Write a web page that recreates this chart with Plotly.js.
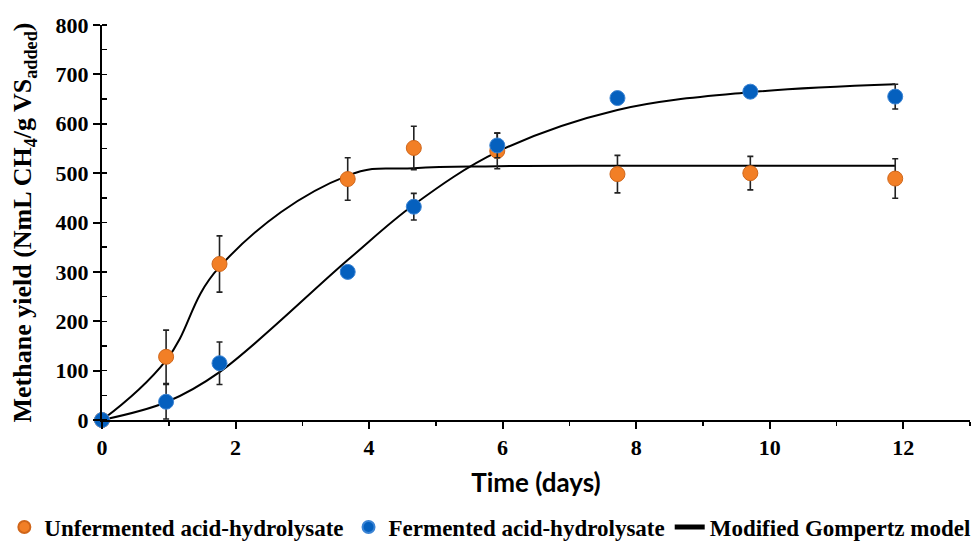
<!DOCTYPE html>
<html>
<head>
<meta charset="utf-8">
<script src="https://cdn.plot.ly/plotly-3.0.1.min.js"></script>
<style>html,body{margin:0;padding:0;background:#fff;}#chart{width:971px;height:544px;}</style>
</head>
<body>
<div id="chart"></div>
<script>
const days = [0, 0.96, 1.76, 3.68, 4.67, 5.92, 7.72, 9.71, 11.88];
const unfermented = [0, 128, 316, 488, 551, 545, 498, 500, 489];
const unfermentedErr = [0, 54, 57, 43, 44, 36, 38, 34, 40];
const fermented = [0, 37, 115, 300, 432, 556, 652, 665, 655];
const fermentedErr = [0, 35, 43, 5, 27, 25, 12, 12, 25];
const gompertzUnfermented = [0, 121, 310, 495, 510, 514, 515, 515, 515];
const gompertzFermented = [0, 36, 97, 324, 436, 543, 628, 664, 680];
const xTicks = [0, 2, 4, 6, 8, 10, 12];
const yTicks = [0, 100, 200, 300, 400, 500, 600, 700, 800];

const serif = "Liberation Serif, Times New Roman, serif";

const traces = [
  {x: days, y: gompertzUnfermented, mode: 'lines', line: {shape: 'spline', smoothing: 1.2, color: '#000', width: 2},
   name: 'Modified Gompertz model', legendgroup: 'g', showlegend: false, legendrank: 3, hoverinfo: 'skip'},
  {x: days, y: gompertzFermented, mode: 'lines', line: {shape: 'spline', smoothing: 1, color: '#000', width: 2},
   name: 'Modified Gompertz model', legendgroup: 'g', showlegend: true, legendrank: 3},
  {x: days, y: unfermented, mode: 'markers', name: 'Unfermented acid-hydrolysate', legendrank: 1,
   marker: {size: 15, color: '#F27F26', line: {color: '#D0661A', width: 1}},
   error_y: {type: 'data', array: unfermentedErr, visible: true, color: '#222', thickness: 1.6, width: 3},
   cliponaxis: false},
  {x: days, y: fermented, mode: 'markers', name: 'Fermented acid-hydrolysate', legendrank: 2,
   marker: {size: 15, color: '#0560BE', line: {color: '#3B84D4', width: 1}},
   error_y: {type: 'data', array: fermentedErr, visible: true, color: '#222', thickness: 1.6, width: 3},
   cliponaxis: false}
];

const layout = {
  width: 971, height: 544,
  margin: {l: 102, r: 1, t: 25, b: 124, autoexpand: false},
  paper_bgcolor: '#fff', plot_bgcolor: '#fff',
  showlegend: true,
  legend: {orientation: 'h', x: -0.1125, xanchor: 'left', y: -0.271, yanchor: 'middle',
           font: {family: serif, size: 23, weight: 'bold', color: '#000'}, traceorder: 'normal',
           itemwidth: 30, itemsizing: 'constant'},
  xaxis: {range: [0, 13], tickvals: xTicks, ticktext: xTicks.map(String), showgrid: false, zeroline: false,
          showline: true, linecolor: '#000', linewidth: 2,
          ticks: 'outside', ticklen: 7, tickwidth: 2, tickcolor: '#000',
          minor: {ticks: 'outside', dtick: 1, ticklen: 4, tickwidth: 1.5, tickcolor: '#000'},
          tickfont: {family: serif, size: 22, weight: 'bold', color: '#000'},
          title: {text: 'Time (days)', font: {family: 'Lato, sans-serif', size: 26, weight: 'bold', color: '#000'}, standoff: 14},
          fixedrange: true},
  yaxis: {range: [0, 800], tickvals: yTicks, ticktext: yTicks.map(String), showgrid: false, zeroline: false,
          showline: true, linecolor: '#000', linewidth: 2,
          ticks: 'outside', ticklen: 7, tickwidth: 2, tickcolor: '#000',
          minor: {ticks: 'inside', dtick: 50, ticklen: 5, tickwidth: 1.5, tickcolor: '#000'},
          tickfont: {family: serif, size: 22, weight: 'bold', color: '#000'},
          title: {text: 'Methane yield (NmL CH<sub>4</sub>/g VS<sub>added</sub>)', font: {family: serif, size: 26, weight: 'bold', color: '#000'}, standoff: 16},
          fixedrange: true},
  xaxis2: {overlaying: 'x', range: [0, 13], tickvals: xTicks, showticklabels: false, showgrid: false, zeroline: false,
           showline: false, ticks: 'inside', ticklen: 7, tickwidth: 2, tickcolor: '#000',
           minor: {ticks: 'inside', dtick: 1, ticklen: 4, tickwidth: 1.5, tickcolor: '#000'}, anchor: 'y'},
  yaxis2: {overlaying: 'y', range: [0, 800], tickvals: yTicks, showticklabels: false, showgrid: false, zeroline: false,
           showline: false, ticks: 'inside', ticklen: 7, tickwidth: 2, tickcolor: '#000', anchor: 'x', side: 'left'}
};

Plotly.newPlot('chart', traces, layout, {displayModeBar: false, staticPlot: true});
</script>
</body>
</html>
